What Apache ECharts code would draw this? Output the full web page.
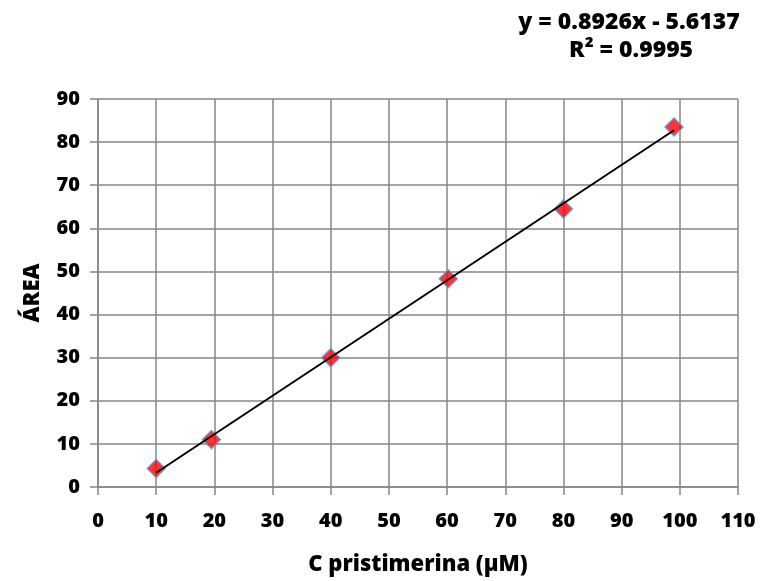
<!DOCTYPE html>
<html>
<head>
<meta charset="utf-8">
<script src="https://cdn.jsdelivr.net/npm/echarts@6/dist/echarts.min.js"></script>
<style>
  html, body { margin: 0; padding: 0; background: #fff; }
  #chart { width: 762px; height: 581px; }
</style>
</head>
<body>
<div id="chart"></div>
<script>
// Calibration data: concentration (µM) vs peak area
const concentration = [10, 19.5, 40, 60.2, 80, 99];
const area = [4.3, 11.0, 30.0, 48.3, 64.5, 83.5];

// Linear fit
const slope = 0.8926;
const intercept = -5.6137;
const rSquared = 0.9995;

const xTicks = { min: 0, max: 110, interval: 10 };
const yTicks = { min: 0, max: 90, interval: 10 };

const xMin = Math.min(...concentration);
const xMax = Math.max(...concentration);
const fitLine = [xMin, xMax].map(x => [x, slope * x + intercept]);

const FONT = '"Open Sans", "Liberation Sans", sans-serif';
const gridColor = '#878787';

const chart = echarts.init(document.getElementById('chart'), null, { renderer: 'canvas' });
chart.setOption({
  animation: false,
  backgroundColor: '#ffffff',
  grid: { left: 98, right: 24, top: 99, bottom: 94, containLabel: false, outerBoundsMode: 'none' },
  graphic: [
    {
      type: 'text',
      x: 629, y: 22,
      style: {
        text: 'y = ' + slope.toFixed(4) + 'x - ' + Math.abs(intercept).toFixed(4),
        font: '800 23px ' + FONT,
        fill: '#000',
        textAlign: 'center',
        textVerticalAlign: 'middle'
      }
    },
    {
      type: 'text',
      x: 631, y: 50,
      style: {
        text: 'R² = ' + rSquared.toFixed(4),
        font: '800 23px ' + FONT,
        fill: '#000',
        textAlign: 'center',
        textVerticalAlign: 'middle'
      }
    }
  ],
  xAxis: {
    type: 'value',
    min: xTicks.min, max: xTicks.max, interval: xTicks.interval,
    name: 'C pristimerina (µM)',
    nameLocation: 'middle',
    nameGap: 67,
    nameTextStyle: { fontFamily: FONT, fontWeight: 800, fontSize: 22, color: '#000' },
    axisLine: { show: true, lineStyle: { color: gridColor, width: 1.5 } },
    axisTick: { show: true, inside: false, length: 8, lineStyle: { color: gridColor, width: 1.5 } },
    axisLabel: { margin: 24, fontFamily: FONT, fontWeight: 800, fontSize: 20, color: '#000' },
    splitLine: { show: true, lineStyle: { color: gridColor, width: 1.5 } }
  },
  yAxis: {
    type: 'value',
    min: yTicks.min, max: yTicks.max, interval: yTicks.interval,
    name: 'ÁREA',
    nameLocation: 'middle',
    nameGap: 54,
    nameRotate: 90,
    nameTextStyle: { fontFamily: FONT, fontWeight: 800, fontSize: 22, color: '#000' },
    axisLine: { show: true, lineStyle: { color: gridColor, width: 1.5 } },
    axisTick: { show: true, inside: false, length: 8, lineStyle: { color: gridColor, width: 1.5 } },
    axisLabel: { margin: 18, fontFamily: FONT, fontWeight: 800, fontSize: 20, color: '#000' },
    splitLine: { show: true, lineStyle: { color: gridColor, width: 1.5 } }
  },
  series: [
    {
      type: 'line',
      data: fitLine,
      showSymbol: false,
      lineStyle: { color: '#000', width: 2 },
      z: 3
    },
    {
      type: 'scatter',
      data: concentration.map((x, i) => [x, area[i]]),
      symbol: 'diamond',
      symbolSize: [18, 18],
      itemStyle: { color: '#ff0000', borderColor: '#5f93cf', borderWidth: 1.5 },
      z: 2
    }
  ]
});
</script>
</body>
</html>
